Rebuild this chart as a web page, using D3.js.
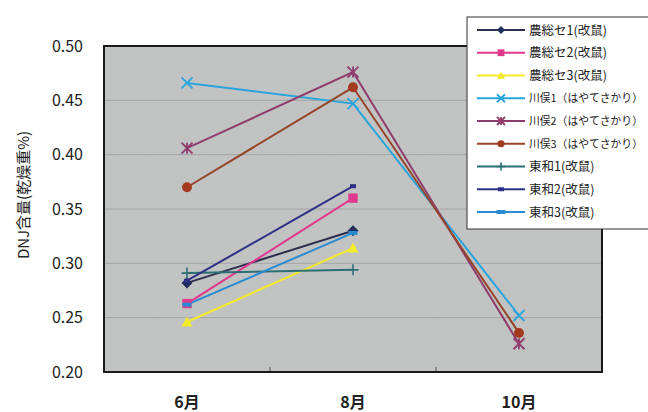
<!DOCTYPE html>
<html>
<head>
<meta charset="utf-8">
<script src="https://cdn.jsdelivr.net/npm/d3@7"></script>
<style>
  html, body { margin: 0; padding: 0; background: #fff; }
  svg { display: block; }
  text { font-family: "Noto Sans CJK JP", "Noto Sans", sans-serif; }
</style>
</head>
<body>
<svg id="chart" width="648" height="412"></svg>
<script>
// Harvest months
const months = ["6月", "8月", "10月"];

// Series names
const seriesNames = [
  "農総セ1(改鼠)", "農総セ2(改鼠)", "農総セ3(改鼠)",
  "川俣1（はやてさかり）", "川俣2（はやてさかり）", "川俣3（はやてさかり）",
  "東和1(改鼠)", "東和2(改鼠)", "東和3(改鼠)"
];

// DNJ content (% of dry weight) per month; null = not measured
const noso1 = [0.282, 0.330, null];
const noso2 = [0.263, 0.360, null];
const noso3 = [0.246, 0.314, null];
const kawamata1 = [0.466, 0.447, 0.252];
const kawamata2 = [0.406, 0.476, 0.226];
const kawamata3 = [0.370, 0.462, 0.236];
const towa1 = [0.291, 0.294, null];
const towa2 = [0.284, 0.371, null];
const towa3 = [0.262, 0.328, null];

// Y axis ticks
const yTicks = [0.20, 0.25, 0.30, 0.35, 0.40, 0.45, 0.50];

const seriesValues = [noso1, noso2, noso3, kawamata1, kawamata2, kawamata3, towa1, towa2, towa3];
const lineColors = ["#2e2f4e", "#e0398d", "#f2ea2a", "#2aa4dc", "#8e3d6c", "#94452a", "#2c6f73", "#2d3085", "#2b8bd2"];
const markerColors = ["#1f2c5c", "#e0398d", "#f2ea2a", "#2aa4dc", "#8e3d6c", "#a3391f", "#2c6f73", "#2d3085", "#2b8bd2"];
const markerTypes = ["diamond", "square", "triangle", "times", "asterisk", "circle", "plus", "dash", "dashWide"];

const series = seriesNames.map((name, i) => ({
  name, values: seriesValues[i], line: lineColors[i], mark: markerColors[i], type: markerTypes[i]
}));

const svg = d3.select("#chart");
const plot = { left: 104, right: 602, top: 46, bottom: 372 };

const x = d3.scaleBand().domain(months).range([plot.left, plot.right]).padding(0);
const y = d3.scaleLinear().domain([0.20, 0.50]).range([plot.bottom, plot.top]);
const cx = m => x(m) + x.bandwidth() / 2;

// Grain for the plot background
const defs = svg.append("defs");
const grain = defs.append("filter").attr("id", "grain").attr("x", 0).attr("y", 0).attr("width", 1).attr("height", 1);
grain.append("feTurbulence").attr("type", "fractalNoise").attr("baseFrequency", 0.85).attr("numOctaves", 2).attr("seed", 3).attr("result", "n");
grain.append("feColorMatrix").attr("type", "matrix")
  .attr("values", "0 0 0 0 0.5  0 0 0 0 0.5  0 0 0 0 0.5  1.2 0 0 0 -0.35");

// Plot background
svg.append("rect")
  .attr("x", plot.left).attr("y", plot.top)
  .attr("width", plot.right - plot.left).attr("height", plot.bottom - plot.top)
  .attr("fill", "#c2c4c4");
svg.append("rect")
  .attr("x", plot.left).attr("y", plot.top)
  .attr("width", plot.right - plot.left).attr("height", plot.bottom - plot.top)
  .attr("fill", "#fff").attr("filter", "url(#grain)").attr("opacity", 0.35);

// Horizontal gridlines
svg.append("g").selectAll("line")
  .data(yTicks.filter(t => t > 0.20 && t < 0.50))
  .join("line")
  .attr("x1", plot.left).attr("x2", plot.right)
  .attr("y1", d => y(d)).attr("y2", d => y(d))
  .attr("stroke", "#a4a6a6").attr("stroke-width", 1);

// Category boundary ticks on the bottom edge
svg.append("g").selectAll("line")
  .data(months.slice(1))
  .join("line")
  .attr("x1", d => x(d)).attr("x2", d => x(d))
  .attr("y1", plot.bottom - 5).attr("y2", plot.bottom)
  .attr("stroke", "#555").attr("stroke-width", 1);

// Plot frame
svg.append("rect")
  .attr("x", plot.left).attr("y", plot.top)
  .attr("width", plot.right - plot.left).attr("height", plot.bottom - plot.top)
  .attr("fill", "none").attr("stroke", "#1a1a1a").attr("stroke-width", 2);

// Y tick labels
svg.append("g").selectAll("text")
  .data(yTicks)
  .join("text")
  .attr("x", 83).attr("y", d => y(d))
  .attr("dy", "0.36em")
  .attr("text-anchor", "end")
  .attr("font-size", 16)
  .attr("fill", "#222")
  .text(d => d3.format(".2f")(d));

// X category labels
svg.append("g").selectAll("text")
  .data(months)
  .join("text")
  .attr("x", d => cx(d)).attr("y", 402)
  .attr("dy", "0.36em")
  .attr("text-anchor", "middle")
  .attr("font-size", 16)
  .attr("font-weight", 600)
  .attr("fill", "#222")
  .text(d => d);

// Y axis title
svg.append("text")
  .attr("transform", "translate(24,195) rotate(-90)")
  .attr("dy", "0.36em")
  .attr("text-anchor", "middle")
  .attr("font-size", 15)
  .attr("fill", "#222")
  .text("DNJ含量(乾燥重%)");

// Marker drawing
function drawMarker(g, type, color, s) {
  switch (type) {
    case "diamond":
      g.append("path").attr("d", `M0,${-s}L${s},0L0,${s}L${-s},0Z`).attr("fill", color);
      break;
    case "square":
      g.append("rect").attr("x", -s * 0.85).attr("y", -s * 0.85).attr("width", s * 1.7).attr("height", s * 1.7).attr("fill", color);
      break;
    case "triangle":
      g.append("path").attr("d", `M0,${-s}L${s},${s * 0.8}L${-s},${s * 0.8}Z`).attr("fill", color);
      break;
    case "times":
      g.append("path").attr("d", `M${-s},${-s}L${s},${s}M${-s},${s}L${s},${-s}`).attr("stroke", color).attr("stroke-width", 1.8).attr("fill", "none");
      break;
    case "asterisk":
      g.append("path").attr("d", `M${-s},${-s}L${s},${s}M${-s},${s}L${s},${-s}M0,${-s}L0,${s}`).attr("stroke", color).attr("stroke-width", 1.8).attr("fill", "none");
      break;
    case "circle":
      g.append("circle").attr("r", s * 0.9).attr("fill", color);
      break;
    case "plus":
      g.append("path").attr("d", `M0,${-s}L0,${s}M${-s},0L${s},0`).attr("stroke", color).attr("stroke-width", 1.6).attr("fill", "none");
      break;
    case "dash":
      g.append("rect").attr("x", -3).attr("y", -2).attr("width", 6).attr("height", 4).attr("fill", color);
      break;
    case "dashWide":
      g.append("rect").attr("x", -4.5).attr("y", -2).attr("width", 9).attr("height", 4).attr("fill", color);
      break;
  }
}

// Lines and markers
const line = d3.line()
  .defined(d => d.v != null)
  .x(d => cx(d.m))
  .y(d => y(d.v));

const layer = svg.append("g");
series.forEach(s => {
  const pts = months.map((m, i) => ({ m, v: s.values[i] }));
  layer.append("path")
    .datum(pts)
    .attr("d", line)
    .attr("fill", "none")
    .attr("stroke", s.line)
    .attr("stroke-width", 2);
});
series.forEach(s => {
  months.forEach((m, i) => {
    const v = s.values[i];
    if (v == null) return;
    const g = layer.append("g").attr("transform", `translate(${cx(m)},${y(v)})`);
    drawMarker(g, s.type, s.mark, 5.5);
  });
});

// Legend
const legend = svg.append("g");
legend.append("rect")
  .attr("x", 467).attr("y", 17).attr("width", 200).attr("height", 212)
  .attr("fill", "#fff").attr("stroke", "#333").attr("stroke-width", 1);
const ly = d3.scalePoint().domain(seriesNames).range([30, 212]);
const textX = 529, textMaxRight = 644, baseSize = 12.5;
series.forEach(s => {
  const yy = ly(s.name);
  legend.append("line")
    .attr("x1", 477).attr("x2", 525).attr("y1", yy).attr("y2", yy)
    .attr("stroke", s.line).attr("stroke-width", 2);
  const g = legend.append("g").attr("transform", `translate(501,${yy})`);
  drawMarker(g, s.type, s.mark, 4);
  const t = legend.append("text")
    .attr("x", textX).attr("y", yy).attr("dy", "0.36em")
    .attr("font-size", baseSize).attr("fill", "#222")
    .text(s.name);
  // shrink long labels so they stay inside the page
  const w = t.node().getComputedTextLength();
  if (textX + w > textMaxRight) {
    t.attr("font-size", Math.floor(baseSize * (textMaxRight - textX) / w * 10) / 10);
  }
});
</script>
</body>
</html>
